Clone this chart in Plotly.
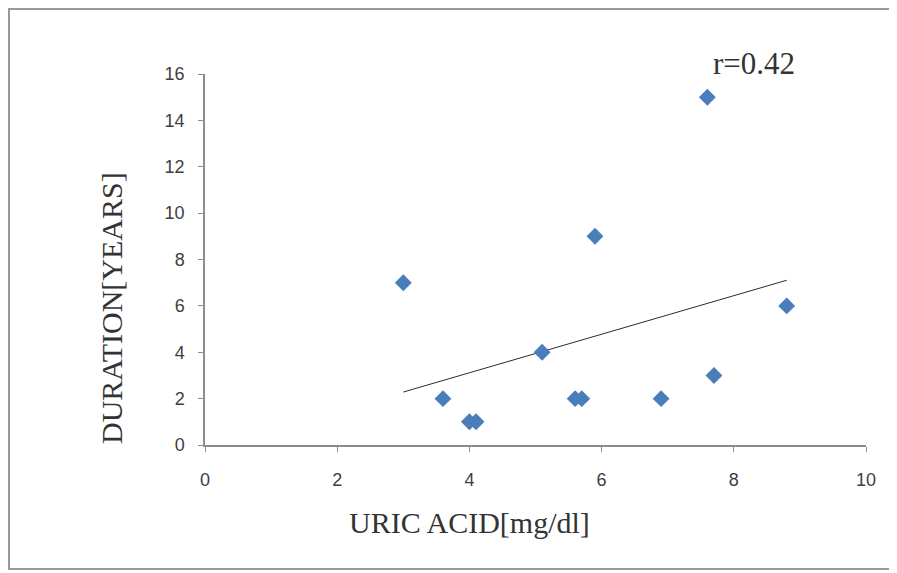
import numpy as np
import plotly.graph_objects as go

uric_acid = [3.0, 3.6, 4.0, 4.1, 5.1, 5.6, 5.7, 5.9, 6.9, 7.6, 7.7, 8.8]
duration = [7, 2, 1, 1, 4, 2, 2, 9, 2, 15, 3, 6]
x_ticks = [0, 2, 4, 6, 8, 10]
y_ticks = [0, 2, 4, 6, 8, 10, 12, 14, 16]
r_label = "r=0.42"

xa = np.array(uric_acid)
ya = np.array(duration)
slope, intercept = np.polyfit(xa, ya, 1)
fit_x = [xa.min(), xa.max()]
fit_y = [slope * v + intercept for v in fit_x]

# page has an 8px body margin
OFF = 8
W, H = 897, 573
PL, PR, PT, PB = 205, 866, 74, 445   # plot area in window pixels
pw, ph = PR - PL, PB - PT

def px(x):
    return (x - PL) / pw

def py(y):
    return (PB - y) / ph

fig = go.Figure()
fig.add_trace(go.Scatter(x=fit_x, y=fit_y, mode="lines",
                         line=dict(color="#2b2b2b", width=1), showlegend=False))
fig.add_trace(go.Scatter(x=uric_acid, y=duration, mode="markers",
                         marker=dict(symbol="diamond", size=13, color="#4a7ebb",
                                     line=dict(width=0)), showlegend=False))

axis_common = dict(showgrid=False, zeroline=False, showline=True, linecolor="#8c8c8c",
                   linewidth=1.5, ticks="outside", tickcolor="#8c8c8c", ticklen=5,
                   tickfont=dict(family="Liberation Sans, Arial", size=18, color="#404040"))
fig.update_xaxes(range=[0, 10], tickvals=x_ticks, ticklabelstandoff=13, **axis_common)
fig.update_yaxes(range=[0, 16], tickvals=y_ticks, ticklabelstandoff=10, **axis_common)

serif = dict(family="Liberation Serif, Times New Roman", size=30, color="#333333")
fig.add_annotation(text="URIC ACID[mg/dl]", xref="paper", yref="paper",
                   x=px(469), y=py(522), xanchor="center", yanchor="middle",
                   showarrow=False, font=serif)
fig.add_annotation(text="DURATION[YEARS]", xref="paper", yref="paper",
                   x=px(111), y=py(308), xanchor="center", yanchor="middle",
                   showarrow=False, textangle=-90, font=serif)
fig.add_annotation(text=r_label, xref="paper", yref="paper",
                   x=px(754), y=py(64), xanchor="center", yanchor="middle", showarrow=False,
                   font=dict(family="Liberation Serif, Times New Roman", size=31, color="#333333"))

fig.add_shape(type="rect", xref="paper", yref="paper",
              x0=px(9), x1=px(893), y0=py(569), y1=py(9),
              line=dict(color="#9a9a9a", width=2), fillcolor="rgba(0,0,0,0)", layer="below")

fig.update_layout(width=W - OFF, height=H - OFF,
                  margin=dict(l=PL - OFF, r=W - PR, t=PT - OFF, b=H - PB),
                  paper_bgcolor="white", plot_bgcolor="white")
fig.write_html("out.html")
